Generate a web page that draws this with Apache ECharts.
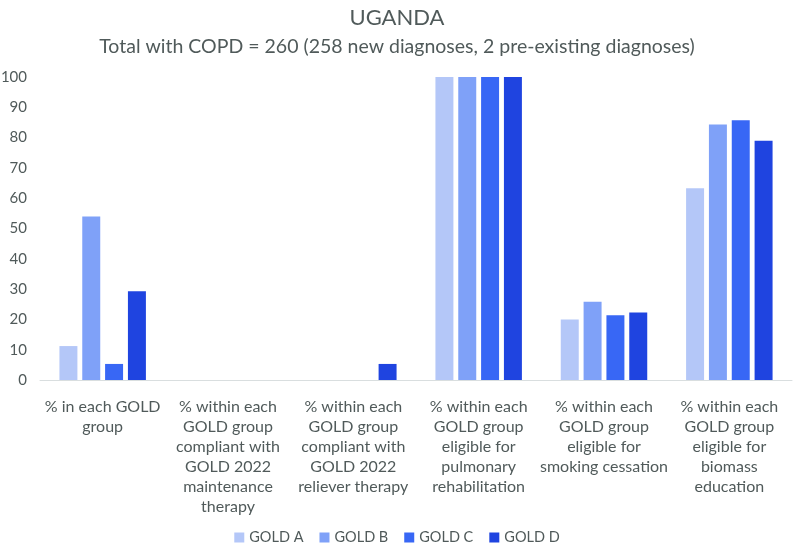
<!DOCTYPE html>
<html>
<head>
<meta charset="utf-8">
<script src="https://cdn.jsdelivr.net/npm/echarts@6/dist/echarts.min.js"></script>
<style>
  html, body { margin: 0; padding: 0; background: #fff; }
  #chart { width: 794px; height: 550px; }
</style>
</head>
<body>
<div id="chart"></div>
<script>
var categories = [
  '% in each GOLD\ngroup',
  '% within each\nGOLD group\ncompliant with\nGOLD 2022\nmaintenance\ntherapy',
  '% within each\nGOLD group\ncompliant with\nGOLD 2022\nreliever therapy',
  '% within each\nGOLD group\neligible for\npulmonary\nrehabilitation',
  '% within each\nGOLD group\neligible for\nsmoking cessation',
  '% within each\nGOLD group\neligible for\nbiomass\neducation'
];
var seriesNames = ['GOLD A', 'GOLD B', 'GOLD C', 'GOLD D'];
var goldA = [11.2, 0, 0, 100, 20.0, 63.3];
var goldB = [54.0, 0, 0, 100, 25.8, 84.3];
var goldC = [5.3, 0, 0, 100, 21.4, 85.7];
var goldD = [29.3, 0, 5.3, 100, 22.3, 79.0];
var colors = ['#b4c7f8', '#7fa1f8', '#3867f5', '#1f44e0'];

var textColor = '#505a5a';
var font = 'Lato';
var values = [goldA, goldB, goldC, goldD];

var chart = echarts.init(document.getElementById('chart'));
var option = {
  color: colors,
  textStyle: { fontFamily: font },
  title: [
    { text: 'UGANDA', left: 'center', top: 2,
      textStyle: { fontFamily: font, fontSize: 22, fontWeight: 'normal', color: textColor } },
    { text: 'Total with COPD = 260 (258 new diagnoses, 2 pre-existing diagnoses)', left: 'center', top: 32,
      textStyle: { fontFamily: font, fontSize: 19.5, fontWeight: 'normal', color: textColor } }
  ],
  legend: {
    bottom: 0,
    left: 'center',
    itemWidth: 10, itemHeight: 10, itemGap: 16,
    icon: 'rect',
    textStyle: { fontFamily: font, fontSize: 14.5, color: textColor }
  },
  grid: { left: 40, right: 2, top: 77, bottom: 170, outerBoundsMode: 'none' },
  xAxis: {
    type: 'category',
    data: categories,
    axisLine: { lineStyle: { color: '#d9dedf' } },
    axisTick: { show: false },
    axisLabel: { interval: 0, color: textColor, fontSize: 16, lineHeight: 20, margin: 17, fontFamily: font }
  },
  yAxis: {
    type: 'value',
    min: 0, max: 100, interval: 10,
    splitLine: { show: false },
    axisLine: { show: false },
    axisLabel: { color: textColor, fontSize: 15, fontFamily: font, margin: 13 }
  },
  series: seriesNames.map(function (n, i) {
    return {
      name: n,
      type: 'bar',
      data: values[i],
      barGap: '27%',
      barCategoryGap: '31%',
      itemStyle: { color: colors[i] }
    };
  })
};
chart.setOption(option);
</script>
</body>
</html>
